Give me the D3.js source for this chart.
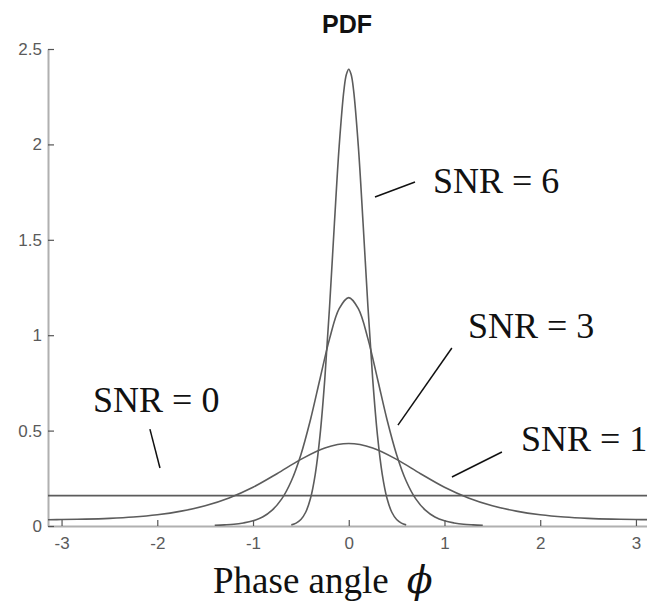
<!DOCTYPE html>
<html>
<head>
<meta charset="utf-8">
<script src="https://cdn.jsdelivr.net/npm/d3@7/dist/d3.min.js"></script>
<style>
  html, body { margin: 0; padding: 0; background: #fff; }
  svg { display: block; }
</style>
</head>
<body>
<script>
// Phase-angle probability density for several signal-to-noise ratios.
const xTicks = [-3, -2, -1, 0, 1, 2, 3];
const yTicks = [0, 0.5, 1, 1.5, 2, 2.5];

const phiSnr0 = [-3.1416, 3.1416];
const pdfSnr0 = [0.159, 0.159];

const phiSnr1 = [-3.1416, -3.0, -2.75, -2.5, -2.25, -2.0, -1.75, -1.5, -1.25, -1.0, -0.75, -0.5, -0.25, 0,
                 0.25, 0.5, 0.75, 1.0, 1.25, 1.5, 1.75, 2.0, 2.25, 2.5, 2.75, 3.0, 3.1416];
const pdfSnr1 = [0.033, 0.034, 0.036, 0.040, 0.047, 0.059, 0.078, 0.106, 0.147, 0.203, 0.274, 0.349, 0.409, 0.432,
                 0.409, 0.349, 0.274, 0.203, 0.147, 0.106, 0.078, 0.059, 0.047, 0.040, 0.036, 0.034, 0.033];

const phiSnr3 = [-1.4, -1.3, -1.2, -1.1, -1.0, -0.9, -0.8, -0.7, -0.6, -0.5, -0.4, -0.3, -0.2, -0.1, 0,
                 0.1, 0.2, 0.3, 0.4, 0.5, 0.6, 0.7, 0.8, 0.9, 1.0, 1.1, 1.2, 1.3, 1.4];
const pdfSnr3 = [0.004, 0.006, 0.009, 0.016, 0.027, 0.047, 0.083, 0.142, 0.236, 0.374, 0.557, 0.772, 0.982, 1.139, 1.197,
                 1.139, 0.982, 0.772, 0.557, 0.374, 0.236, 0.142, 0.083, 0.047, 0.027, 0.016, 0.009, 0.006, 0.004];

const phiSnr6 = [-0.6, -0.55, -0.5, -0.45, -0.4, -0.35, -0.3, -0.25, -0.2, -0.15, -0.1, -0.05, -0.025, 0,
                 0.025, 0.05, 0.1, 0.15, 0.2, 0.25, 0.3, 0.35, 0.4, 0.45, 0.5, 0.55, 0.6];
const pdfSnr6 = [0.006, 0.015, 0.034, 0.072, 0.144, 0.271, 0.475, 0.771, 1.153, 1.584, 1.991, 2.286, 2.366, 2.394,
                 2.366, 2.286, 1.991, 1.584, 1.153, 0.771, 0.475, 0.271, 0.144, 0.072, 0.034, 0.015, 0.006];

// Curve labels with their leader lines (data coordinates).
const labelNames = ["SNR = 6", "SNR = 3", "SNR = 0", "SNR = 1"];
const labelX = [0.88, 1.245, -2.671, 1.798];
const labelY = [1.745, 0.985, 0.597, 0.393];
const leaderFrom = [[0.274, 1.724], [1.077, 0.933], [-2.077, 0.508], [1.600, 0.388]];
const leaderTo   = [[0.692, 1.803], [0.514, 0.529], [-1.972, 0.304], [1.078, 0.257]];

const width = 647, height = 604;
const svg = d3.select("body").append("svg")
  .attr("width", width).attr("height", height)
  .style("background", "#fff");

const x = d3.scaleLinear().domain([-Math.PI, Math.PI]).range([48, 649.5]);
const y = d3.scaleLinear().domain([0, 2.5]).range([526, 49]);

// Axes: left and bottom only, ticks pointing inward
const fmt = d => String(d);
const xAxis = svg.append("g").attr("transform", `translate(0,${y(0)})`)
  .call(d3.axisBottom(x).tickValues(xTicks).tickFormat(fmt).tickSizeInner(-6).tickSizeOuter(0).tickPadding(11));
const yAxis = svg.append("g").attr("transform", `translate(${x(-Math.PI)},0)`)
  .call(d3.axisLeft(y).tickValues(yTicks).tickFormat(fmt).tickSizeInner(-6).tickSizeOuter(0).tickPadding(6));

[xAxis, yAxis].forEach(g => {
  g.select(".domain").attr("stroke", "#b0b0b0").attr("stroke-width", 2);
  g.selectAll(".tick line").attr("stroke", "#555").attr("stroke-width", 1.2);
  g.selectAll(".tick text")
    .attr("fill", "#5a5a5a")
    .style("font-family", "'Liberation Sans', Arial, sans-serif")
    .style("font-size", "17px");
});

// Density curves
const line = d3.line()
  .x(d => x(d[0]))
  .y(d => y(d[1]))
  .curve(d3.curveCatmullRom.alpha(0.5));

const series = [
  [phiSnr0, pdfSnr0],
  [phiSnr1, pdfSnr1],
  [phiSnr3, pdfSnr3],
  [phiSnr6, pdfSnr6]
];
svg.append("g").selectAll("path")
  .data(series)
  .join("path")
  .attr("d", s => line(s[0].map((p, i) => [p, s[1][i]])))
  .attr("fill", "none")
  .attr("stroke", "#5c5c5c")
  .attr("stroke-width", 1.6);

// Leader lines and labels
svg.append("g").selectAll("line")
  .data(leaderFrom)
  .join("line")
  .attr("x1", d => x(d[0])).attr("y1", d => y(d[1]))
  .attr("x2", (d, i) => x(leaderTo[i][0])).attr("y2", (d, i) => y(leaderTo[i][1]))
  .attr("stroke", "#111")
  .attr("stroke-width", 1.5);

svg.append("g").selectAll("text")
  .data(labelNames)
  .join("text")
  .attr("x", (d, i) => x(labelX[i]))
  .attr("y", (d, i) => y(labelY[i]))
  .attr("fill", "#111")
  .style("font-family", "'Liberation Serif', 'Times New Roman', serif")
  .style("font-size", "36px")
  .text(d => d);

// Title
svg.append("text")
  .attr("x", 347).attr("y", 33)
  .attr("text-anchor", "middle")
  .attr("fill", "#111")
  .style("font-family", "'Liberation Sans', Arial, sans-serif")
  .style("font-weight", "bold")
  .style("font-size", "25px")
  .text("PDF");

// Axis label
const xlab = svg.append("text")
  .attr("x", 213).attr("y", 593)
  .attr("fill", "#111")
  .style("font-family", "'Liberation Serif', 'Times New Roman', serif")
  .style("font-size", "37px");
xlab.append("tspan").text("Phase angle");
xlab.append("tspan")
  .attr("dx", 18)
  .style("font-style", "italic")
  .style("font-family", "'DejaVu Serif', serif")
  .style("font-size", "38px")
  .text("ϕ");
</script>
</body>
</html>
